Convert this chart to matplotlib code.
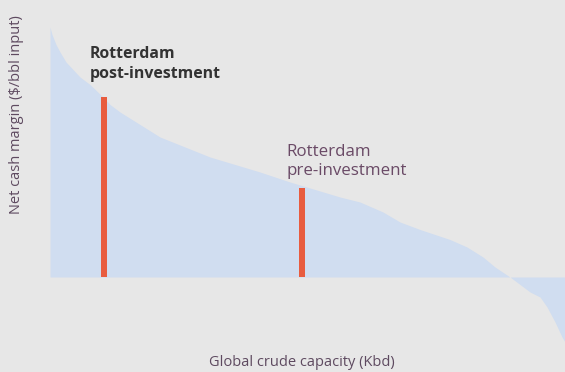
import numpy as np
import matplotlib.pyplot as plt

# refinery supply curve: cumulative capacity vs net cash margin
capacity = [0, 0.4, 1.2, 2, 3.2, 4.6, 6, 8, 10.6, 12, 14, 18, 22, 27, 32, 37, 42,
            48, 53, 58, 62, 66.6, 70, 74, 80, 83.4, 86.6, 89, 92, 94, 96, 98,
            99.4, 101, 102.4, 103]
margin = [10.0, 9.7, 9.3, 9.0, 8.6, 8.3, 8.0, 7.7, 7.2, 6.9, 6.6, 6.1, 5.6, 5.2,
          4.8, 4.5, 4.2, 3.8, 3.5, 3.2, 3.0, 2.6, 2.2, 1.9, 1.5, 1.2, 0.8, 0.4,
          0.0, -0.3, -0.6, -0.8, -1.2, -1.8, -2.4, -2.6]

site_labels = ['Rotterdam\npost-investment', 'Rotterdam\npre-investment']
site_capacity = [10.8, 50.4]
site_margin = [7.2, 3.56]

bg = '#e7e7e7'
fig = plt.figure(figsize=(5.65, 3.72), dpi=100, facecolor=bg)
ax = fig.add_axes([50 / 565, 22 / 372, 515 / 565, 330 / 372])
ax.set_facecolor(bg)

ax.fill_between(capacity, margin, 0, color='#d0ddf0', lw=0, interpolate=True)
ax.bar(site_capacity, site_margin, width=1.3, color='#e85c3f', align='center')

ax.text(8, 9.22, site_labels[0], fontsize=11.4, fontweight='bold', color='#333333',
        family='Open Sans', va='top', ha='left', linespacing=1.3)
ax.text(47.2, 5.3, site_labels[1], fontsize=12.2, color='#6a4a66',
        family='Open Sans', va='top', ha='left', linespacing=1.2)

ax.set_xlim(0, 103)
ax.set_ylim(-2.92, 10.28)
ax.axis('off')

fig.text(17 / 565, 1 - 115 / 372, 'Net cash margin ($/bbl input)', rotation=90,
         fontsize=10.5, color='#5e4a60', family='Open Sans', ha='center', va='center')
fig.text(302 / 565, 1 - 362 / 372, 'Global crude capacity (Kbd)', fontsize=10.5,
         color='#5e4a60', family='Open Sans', ha='center', va='center')

fig.savefig('out.png', dpi=100, facecolor=bg)
